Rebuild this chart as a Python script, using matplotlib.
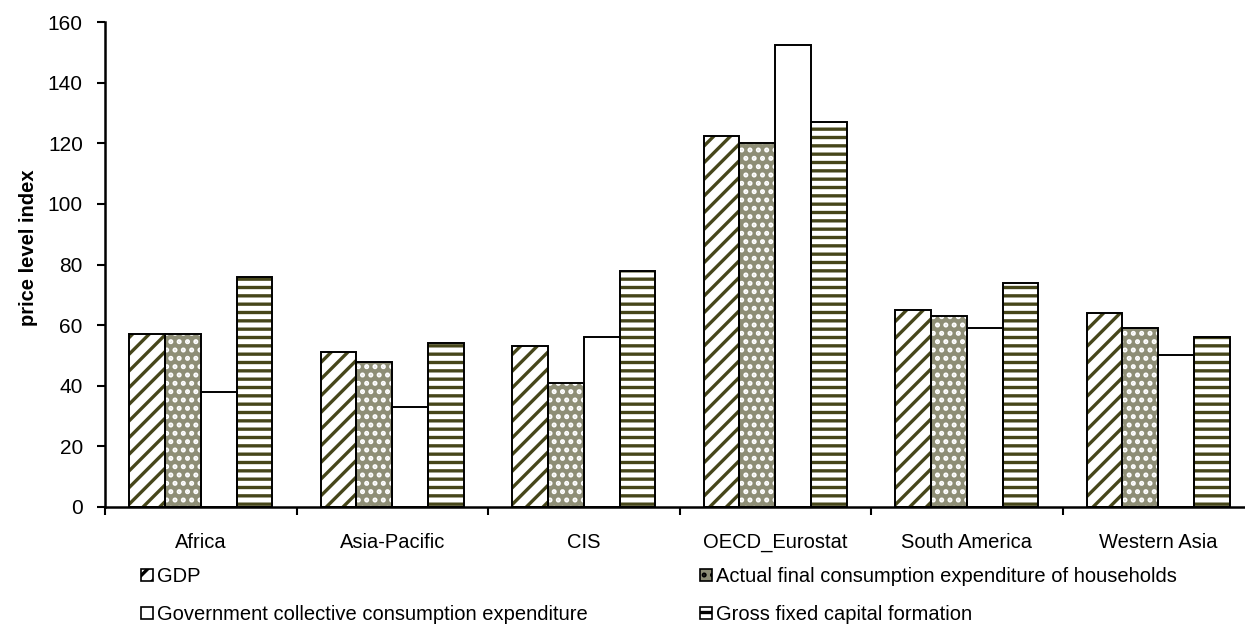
import numpy as np
import matplotlib
matplotlib.use("Agg")
import matplotlib.pyplot as plt
from matplotlib.patches import Patch

# values
regions = ["Africa", "Asia-Pacific", "CIS", "OECD_Eurostat", "South America", "Western Asia"]
gdp = [57, 51, 53, 122.5, 65, 64]
households = [57, 48, 41, 120, 63, 59]
government = [38, 33, 56, 152.5, 59, 50]
gfcf = [76, 54, 78, 127, 74, 56]

series_names = [
    "GDP",
    "Actual final consumption expenditure of households",
    "Government collective consumption expenditure",
    "Gross fixed capital formation",
]

plt.rcParams["font.family"] = ["Liberation Sans", "DejaVu Sans"]
plt.rcParams["hatch.linewidth"] = 2.4

OLIVE = "#46461a"
styles = [
    # facecolor, hatch, hatch colour
    ("white", "//", OLIVE),
    ("#8e8e76", "..", "white"),
    ("white", None, "black"),
    ("white", "--", OLIVE),
]

fig = plt.figure(figsize=(12.45, 6.25), dpi=100)
ax = fig.add_axes([105 / 1245, 118 / 625, 1149 / 1245, 485 / 625])

x = np.arange(len(regions))
w = 0.187
all_series = [gdp, households, government, gfcf]
for i, vals in enumerate(all_series):
    fc, hatch, hc = styles[i]
    pos = x + (i - 1.5) * w
    # pattern layer, then a black outline on top
    ax.bar(pos, vals, w, color=fc, edgecolor=hc, linewidth=0, hatch=hatch, zorder=2)
    ax.bar(pos, vals, w, facecolor="none", edgecolor="black", linewidth=1.4, zorder=3)

ax.set_xlim(-0.5, len(regions) - 0.5)
ax.set_ylim(0, 160)
ax.set_yticks(np.arange(0, 161, 20))
ax.set_xticks(x)
ax.set_xticklabels(regions, fontsize=14.5)
ax.set_xticks(np.arange(-0.5, len(regions), 1), minor=True)
ax.tick_params(axis="x", which="major", length=0, pad=19)
ax.tick_params(axis="x", which="minor", length=6, width=1.5, direction="out")
ax.tick_params(axis="y", length=6, width=1.5, direction="out", labelsize=15, pad=10)
ax.set_ylabel("price level index", fontsize=14.5, fontweight="bold")
ax.yaxis.set_label_coords(-0.058, 0.534)

for s in ["top", "right"]:
    ax.spines[s].set_visible(False)
for s in ["left", "bottom"]:
    ax.spines[s].set_linewidth(1.8)

handles = []
for i in range(4):
    fc, hatch, hc = styles[i]
    handles.append(Patch(facecolor=fc, edgecolor="black", hatch=hatch, linewidth=1.2))

leg_kw = dict(frameon=False, fontsize=14.5, handlelength=0.6, handleheight=0.6,
              handletextpad=0.2, labelspacing=0.95, borderpad=0, borderaxespad=0,
              loc="upper left")
fig.legend([handles[0], handles[2]], [series_names[0], series_names[2]],
           bbox_to_anchor=(141 / 1245, 1 - 567 / 625), **leg_kw)
fig.legend([handles[1], handles[3]], [series_names[1], series_names[3]],
           bbox_to_anchor=(700 / 1245, 1 - 567 / 625), **leg_kw)

fig.savefig("out.png", dpi=100)
